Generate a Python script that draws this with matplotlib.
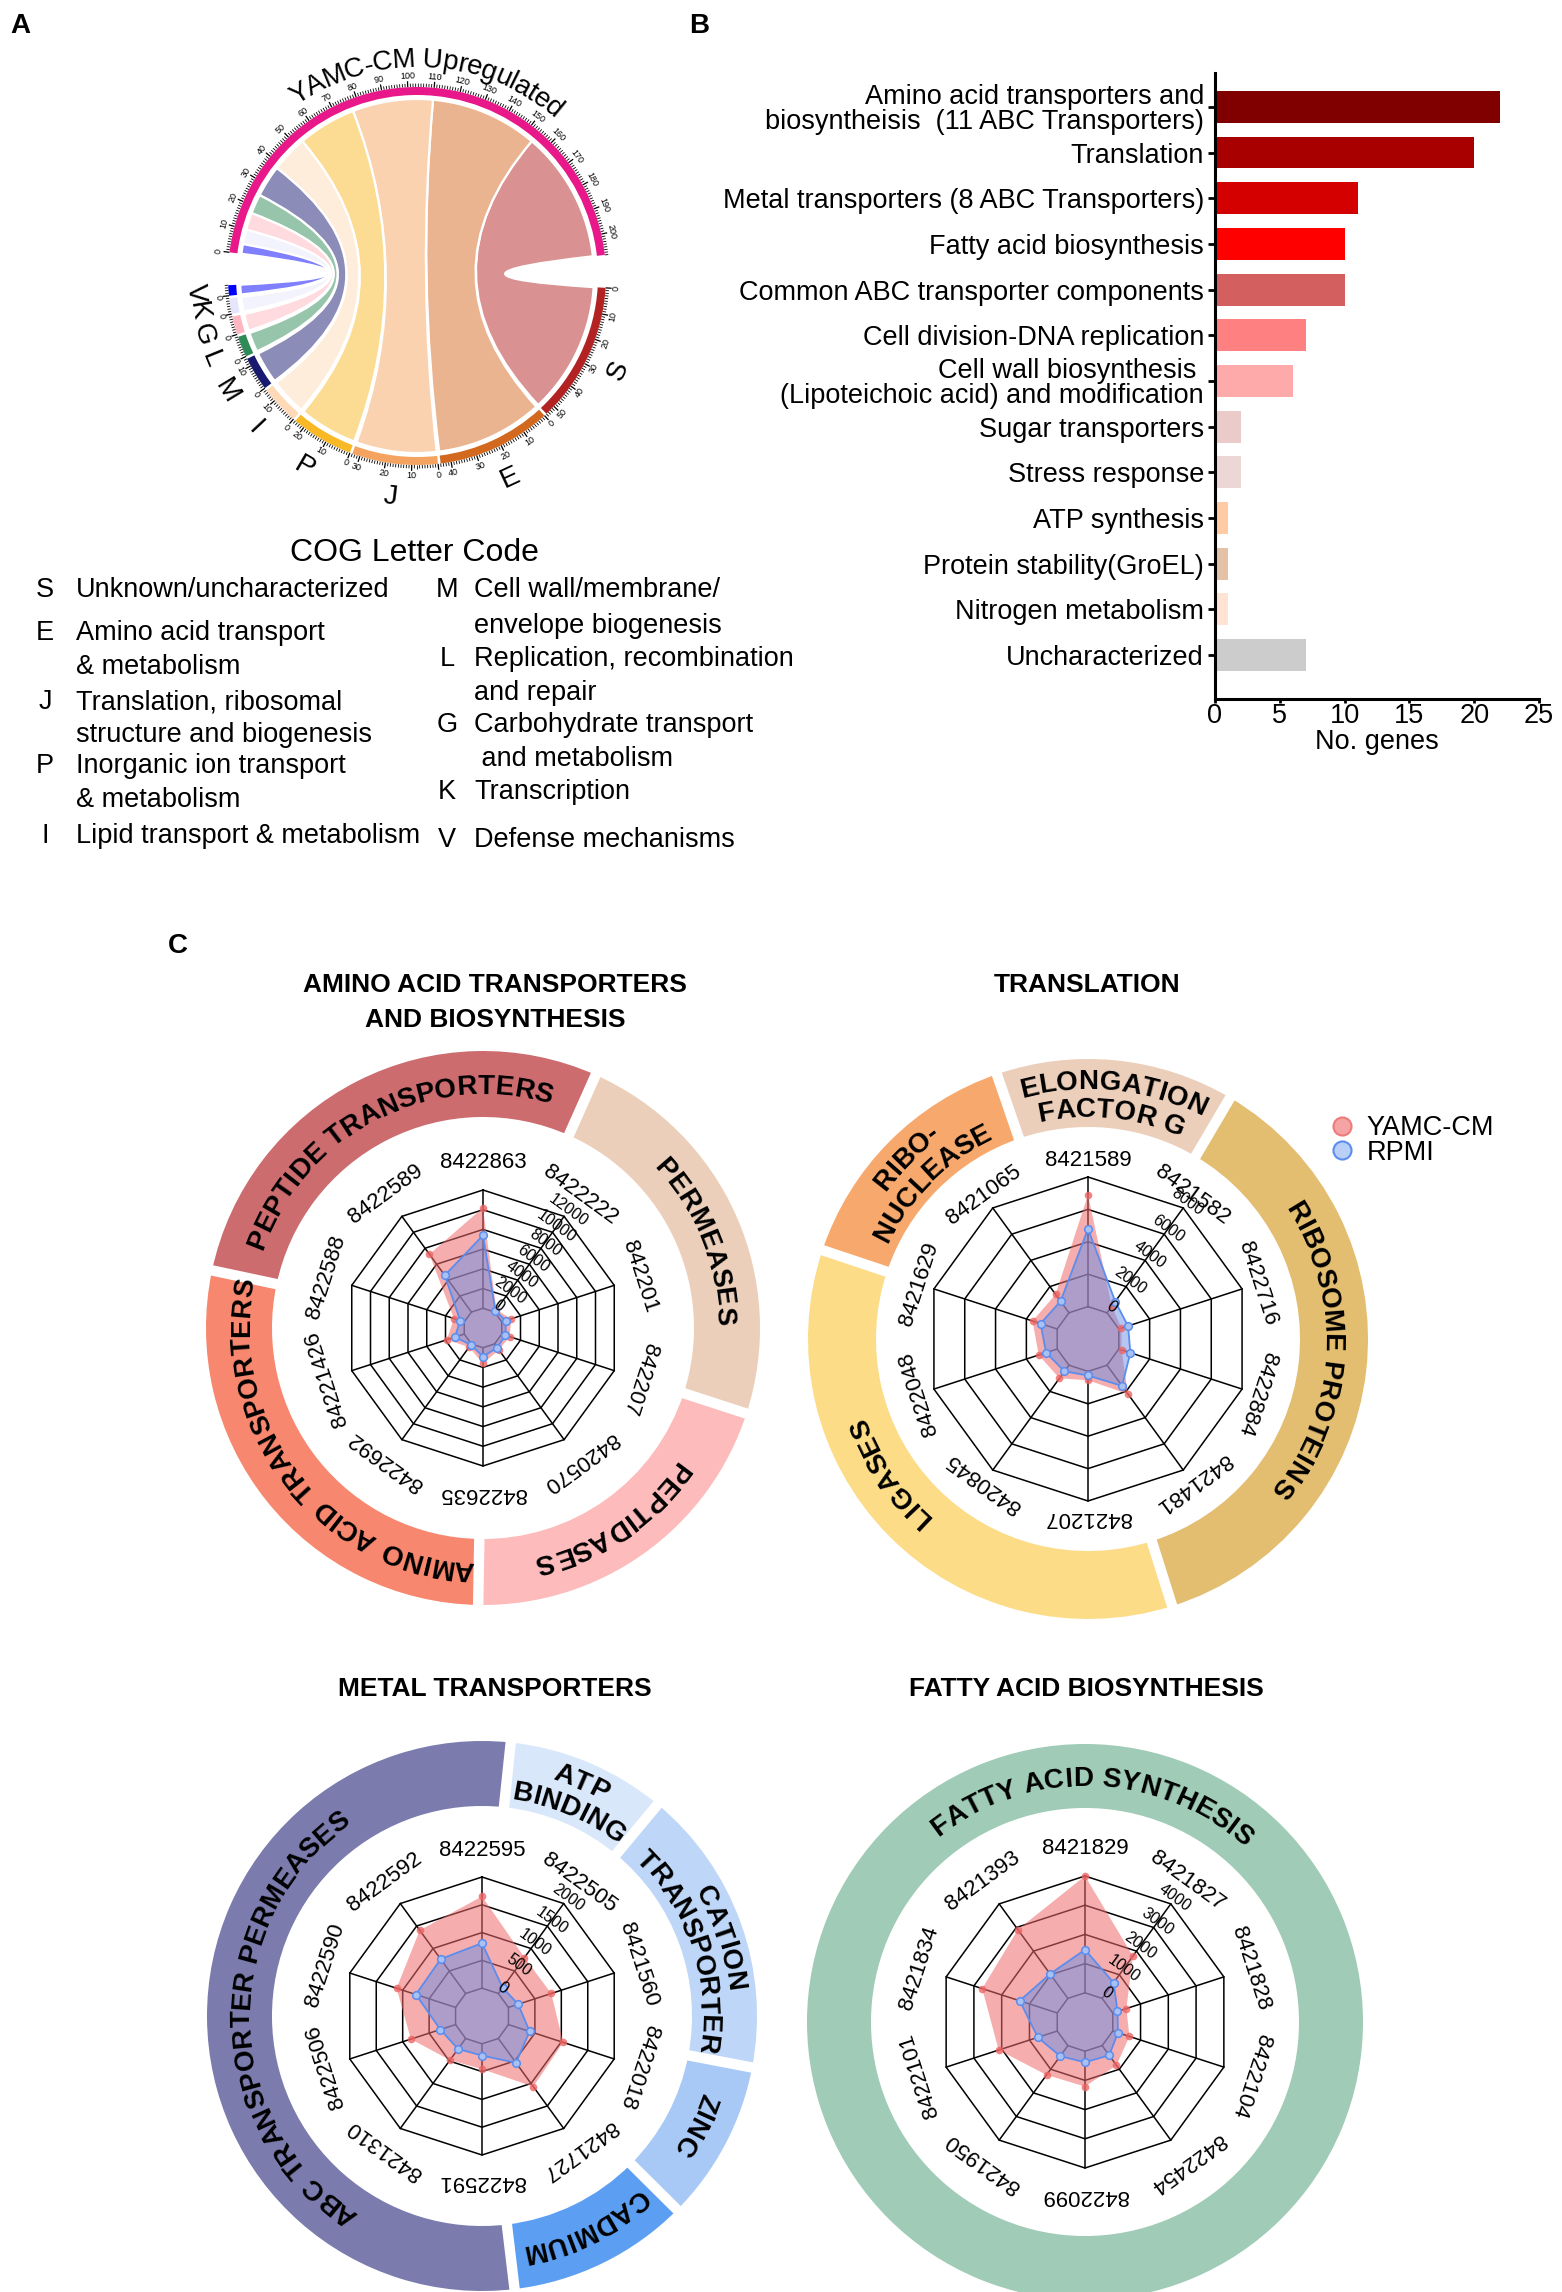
import numpy as np
import matplotlib
matplotlib.use("Agg")
import matplotlib.pyplot as plt
from matplotlib.path import Path
from matplotlib.patches import PathPatch, Wedge
from matplotlib.lines import Line2D
from matplotlib.collections import LineCollection
from matplotlib import ft2font
from matplotlib.font_manager import FontProperties, findfont

# ======================= DATA =======================
# Panel A : chord diagram
chord_title = "YAMC-CM Upregulated"
cog_codes = ["S", "E", "J", "P", "I", "M", "L", "G", "K", "V"]
cog_counts = [54, 44, 33, 24, 15, 13, 8, 7, 6, 4]
cog_colors = ["#B22222", "#D2691E", "#F4A460", "#F9B826", "#FFDAB9",
              "#191970", "#2E8B57", "#FFB6C1", "#E6E6FA", "#0000FF"]
up_color = "#E8178A"

cog_legend_title = "COG Letter Code"
cog_left = [("S", "Unknown/uncharacterized"), ("E", "Amino acid transport"),
            ("", "& metabolism"), ("J", "Translation, ribosomal"),
            ("", "structure and biogenesis"), ("P", "Inorganic ion transport"),
            ("", "& metabolism"), ("I", "Lipid transport & metabolism")]
cog_right = [("M", "Cell wall/membrane/"), ("", "envelope biogenesis"),
             ("L", "Replication, recombination"), ("", "and repair"),
             ("G", "Carbohydrate transport"), ("", " and metabolism"),
             ("K", "Transcription"), ("V", "Defense mechanisms")]

# Panel B : bar chart
bar_labels = ["Amino acid transporters and\nbiosyntheisis  (11 ABC Transporters)",
              "Translation",
              "Metal transporters (8 ABC Transporters)",
              "Fatty acid biosynthesis",
              "Common ABC transporter components",
              "Cell division-DNA replication",
              "Cell wall biosynthesis \n(Lipoteichoic acid) and modification",
              "Sugar transporters",
              "Stress response",
              "ATP synthesis",
              "Protein stability(GroEL)",
              "Nitrogen metabolism",
              "Uncharacterized"]
bar_values = [22, 20, 11, 10, 10, 7, 6, 2, 2, 1, 1, 1, 7]
bar_colors = ["#800000", "#A80000", "#D40000", "#FF0000", "#D45F5F", "#FF8080",
              "#FFAAAA", "#EBCACA", "#EDD6D6", "#FFCBA4", "#E3C2A8", "#FFE4D6", "#CCCCCC"]
bar_xticks = [0, 5, 10, 15, 20, 25]

# Panel C : radar charts
series_names = ["YAMC-CM", "RPMI"]

r1_title = ["AMINO ACID TRANSPORTERS", "AND BIOSYNTHESIS"]
r1_genes = ["8422863", "8422222", "842201", "842207", "8420570",
            "8422635", "8422692", "84221426", "8422588", "8422589"]
r1_red = [10200, 300, 1000, 850, 750, 1600, 400, 1850, 1100, 7250]
r1_blue = [7400, 150, 430, 400, 450, 900, 100, 1000, 430, 4600]
r1_ticks = [0, 2000, 4000, 6000, 8000, 10000, 12000]
r1_groups = [["PEPTIDE TRANSPORTERS"], ["PERMEASES"], ["PEPTIDASES"], ["AMINO ACID TRANSPORTERS"]]
r1_group_colors = ["#CC6C6F", "#EBCFBA", "#FDBBBB", "#F8876F"]

r2_title = ["TRANSLATION"]
r2_genes = ["8421589", "8421582", "8422716", "8422884", "8421481",
            "8421207", "8420845", "8422048", "8421629", "8421065"]
r2_red = [6900, 500, 170, 180, 2200, 550, 1000, 1200, 1600, 1400]
r2_blue = [4800, 860, 600, 750, 1580, 250, 470, 720, 1080, 880]
r2_ticks = [0, 2000, 4000, 6000, 8000]
r2_groups = [["RIBO-", "NUCLEASE"], ["ELONGATION", "FACTOR G"], ["RIBOSOME PROTEINS"], ["LIGASES"]]
r2_group_colors = ["#F7A86C", "#EBCFBA", "#E3BD70", "#FDDC88"]

r3_title = ["METAL TRANSPORTERS"]
r3_genes = ["8422595", "8422505", "8421560", "8422018", "8421727",
            "8422591", "8421310", "8422506", "8422590", "8422592"]
r3_red = [1650, 800, 810, 1035, 1070, 455, 480, 845, 1115, 1405]
r3_blue = [810, 130, 185, 400, 540, 212, 232, 288, 750, 765]
r3_ticks = [0, 500, 1000, 1500, 2000]
r3_groups = [["ABC TRANSPORTER PERMEASES"], ["ATP", "BINDING"], ["CATION", "TRANSPORTER"],
             ["ZINC"], ["CADMIUM"]]
r3_group_colors = ["#7B7BAE", "#D9E7FB", "#BED6F7", "#A8C8F6", "#5C9EF2"]

r4_title = ["FATTY ACID BIOSYNTHESIS"]
r4_genes = ["8421829", "8421827", "8421828", "8422104", "8422454",
            "8422099", "8421950", "8422101", "8421834", "8421393"]
r4_red = [4000, 1790, 490, 600, 835, 1210, 1240, 2110, 2700, 2910]
r4_blue = [1475, 665, 170, 185, 410, 380, 445, 700, 1350, 1035]
r4_ticks = [0, 1000, 2000, 3000, 4000]
r4_groups = [["FATTY ACID SYNTHESIS"]]
r4_group_colors = ["#9FCBB7"]

# ======================= LAYOUT / STYLE =======================
W, H, DPI = 1562, 2292, 100
plt.rcParams["font.family"] = ["Liberation Sans", "DejaVu Sans"]
fig = plt.figure(figsize=(W / DPI, H / DPI), dpi=DPI)
fig.patch.set_facecolor("white")

RED = "#F06A6A"
RED_M = "#EE6464"
BLUE = "#6A8FE6"
BLUE_E = "#5B8DEF"


def fx(x):
    return x / W


def fy(y):
    return 1 - y / H


def canvas(cx, cy, w, h):
    ax = fig.add_axes([(cx - w / 2) / W, 1 - (cy + h / 2) / H, w / W, h / H])
    ax.set_xlim(-w / 2, w / 2)
    ax.set_ylim(-h / 2, h / 2)
    ax.set_axis_off()
    return ax


_ft = {}


def adv_px(ch, size, weight):
    if weight not in _ft:
        _ft[weight] = ft2font.FT2Font(findfont(FontProperties(family="Liberation Sans", weight=weight)))
    f = _ft[weight]
    f.set_size(size, 72)
    g = f.load_char(ord(ch))
    return g.linearHoriAdvance / 65536.0 * DPI / 72.0


def curved_text(ax, s, r_base, theta_c, size, weight="bold", color="black", track=0.0):
    advs = [adv_px(c, size, weight) + track for c in s]
    cap = 0.72 * size * DPI / 72.0
    reff = r_base + cap / 2
    total = sum(advs)
    t0 = np.deg2rad(theta_c) + total / reff / 2
    pos = 0.0
    for c, a in zip(s, advs):
        t = t0 - (pos + a / 2) / reff
        pos += a
        if c == " ":
            continue
        ax.text(r_base * np.cos(t), r_base * np.sin(t), c, rotation=np.rad2deg(t) - 90,
                rotation_mode="anchor", ha="center", va="baseline",
                fontsize=size, fontweight=weight, color=color)


def readable_rot(deg):
    return deg + 90 if np.sin(np.deg2rad(deg)) < -1e-6 else deg - 90


# ---------------- Panel labels ----------------
for lab, (px, py) in zip(["A", "B", "C"], [(20, 26), (699, 26), (178, 946)]):
    fig.text(fx(px), fy(py), lab, fontsize=20, fontweight="bold", ha="center", va="center")

# ---------------- Panel A : chord ----------------
axA = canvas(417, 276, 560, 560)
unit, big_gap, small_gap, a_start = 0.8, 10.0, 0.8, 172.8
r_out, r_in, r_link = 189, 181, 177
total = sum(cog_counts)
top_s, top_e = a_start, a_start - total * unit
bottom = []
cur = top_e - big_gap
for code, n, col in zip(cog_codes, cog_counts, cog_colors):
    bottom.append((code, cur, cur - n * unit, n, col))
    cur = cur - n * unit - small_gap
top_pos = {}
cur = top_s
for code, n in reversed(list(zip(cog_codes, cog_counts))):
    top_pos[code] = (cur, cur - n * unit)
    cur -= n * unit


def arc(a1, a2, r, npts=80):
    t = np.deg2rad(np.linspace(a1, a2, npts))
    return np.c_[r * np.cos(t), r * np.sin(t)]


def blend(c, alpha=0.5):
    rgb = np.array(matplotlib.colors.to_rgb(c))
    return tuple(alpha * rgb + (1 - alpha))


for code, b1, b2, n, col in bottom:
    t1, t2 = top_pos[code]
    A = arc(t1, t2, r_link)
    B = arc(b1, b2, r_link)
    verts = list(map(tuple, A)) + [(0, 0), tuple(B[0])] + list(map(tuple, B[1:])) + [(0, 0), tuple(A[0])]
    codes = ([Path.MOVETO] + [Path.LINETO] * (len(A) - 1) + [Path.CURVE3, Path.CURVE3]
             + [Path.LINETO] * (len(B) - 1) + [Path.CURVE3, Path.CURVE3])
    axA.add_patch(PathPatch(Path(verts, codes), facecolor=blend(col, 0.5), edgecolor="white", lw=1.6, zorder=2))

sectors = [("top", top_s, top_e, total, up_color)] + bottom
segs_minor, segs_major = [], []
for name, s, e, n, col in sectors:
    axA.add_patch(Wedge((0, 0), r_out, e, s, width=r_out - r_in, facecolor=col, edgecolor="none", zorder=3))
    for k in range(0, n + 1):
        a = np.deg2rad(s - k * unit)
        ln = 6 if k % 10 == 0 else 3.5
        seg = [(r_out * np.cos(a), r_out * np.sin(a)), ((r_out + ln) * np.cos(a), (r_out + ln) * np.sin(a))]
        (segs_major if k % 10 == 0 else segs_minor).append(seg)
        if k % 10 == 0:
            d = np.rad2deg(a)
            axA.text(200 * np.cos(a), 200 * np.sin(a), str(k), fontsize=6.5, ha="center", va="center",
                     rotation=readable_rot(d), rotation_mode="anchor")
    if name != "top":
        mid = (s + e) / 2
        m = np.deg2rad(mid)
        axA.text(222 * np.cos(m), 222 * np.sin(m), name, fontsize=20, ha="center", va="center",
                 rotation=readable_rot(mid), rotation_mode="anchor")
axA.add_collection(LineCollection(segs_minor, colors="black", linewidths=0.6))
axA.add_collection(LineCollection(segs_major, colors="black", linewidths=0.9))
curved_text(axA, chord_title, 209, 87, 20, weight="normal")

# COG legend
fig.text(fx(414), fy(553), cog_legend_title, fontsize=23, ha="center", va="center")
y_left = [590, 633, 667, 702, 735, 766, 800, 836]
y_right = [590, 626, 659, 693, 725, 759, 792, 840]
for (L, txt), yy in zip(cog_left, y_left):
    if L:
        fig.text(fx(45), fy(yy), L, fontsize=19.5, ha="center", va="center")
    fig.text(fx(76), fy(yy), txt, fontsize=19.5, ha="left", va="center")
for (L, txt), yy in zip(cog_right, y_right):
    if L:
        fig.text(fx(447), fy(yy), L, fontsize=19.5, ha="center", va="center")
    fig.text(fx(474), fy(yy), txt, fontsize=19.5, ha="left", va="center")

# ---------------- Panel B : bars ----------------
axB = fig.add_axes([fx(1215), fy(699), (1539 - 1215) / W, (699 - 73) / H])
yy = np.arange(len(bar_values))
axB.barh(yy, bar_values, height=0.7, color=bar_colors, zorder=2)
axB.set_ylim(len(bar_values) - 1 + 0.96, -0.74)
axB.set_xlim(0, 25)
axB.set_xticks(bar_xticks)
axB.set_yticks(yy)
axB.set_yticklabels(bar_labels, fontsize=19.5, linespacing=0.95)
for sp in ["top", "right"]:
    axB.spines[sp].set_visible(False)
for sp in ["left", "bottom"]:
    axB.spines[sp].set_linewidth(2.2)
axB.tick_params(axis="y", length=5, width=2, labelsize=19.5, pad=3)
axB.tick_params(axis="x", length=3, width=2, labelsize=19.5, pad=0)
axB.set_xlabel("No. genes", fontsize=19.5, labelpad=0)


# ---------------- Panel C : radars ----------------
def draw_radar(cx, cy, genes, red, blue, ticks, groups, gcolors, bounds, text_ang,
               R, r_lab, ring=(211, 277), tick_fs=11.5):
    ax = canvas(cx, cy, 600, 600)
    n = len(genes)
    ang = np.deg2rad(90.0 - 360.0 / n * np.arange(n))
    step = ticks[1] - ticks[0]
    vmax = ticks[-1]

    def rad(v):
        return R * (np.asarray(v, float) + step) / (vmax + step)

    ca, sa = np.cos(ang), np.sin(ang)
    for lv in ticks:
        r = rad(lv)
        ax.plot(np.r_[r * ca, r * ca[0]], np.r_[r * sa, r * sa[0]], color="black", lw=1.1, zorder=2)
    r0 = rad(0)
    for c, s in zip(ca, sa):
        ax.plot([r0 * c, R * c], [r0 * s, R * s], color="black", lw=1.1, zorder=2)
    rr, rb = rad(red), rad(blue)
    ax.fill(rr * ca, rr * sa, color=RED, alpha=0.55, lw=0, zorder=3)
    ax.fill(rb * ca, rb * sa, color=BLUE, alpha=0.5, lw=0, zorder=4)
    ax.plot(np.r_[rb * ca, rb[0] * ca[0]], np.r_[rb * sa, rb[0] * sa[0]], color=BLUE_E, lw=1.3, zorder=5)
    ax.plot(rr * ca, rr * sa, "o", ms=5.5, mfc=RED_M, mec="none", alpha=0.8, zorder=6)
    ax.plot(rb * ca, rb * sa, "o", ms=5.5, mfc="#A9C1F2", mec=BLUE_E, mew=1.1, zorder=6)
    for a, g in zip(ang, genes):
        ax.text(r_lab * np.cos(a), r_lab * np.sin(a), g, fontsize=16, ha="center", va="center",
                rotation=np.rad2deg(a) - 90, rotation_mode="anchor", zorder=7)
    a1 = ang[1]
    for lv in ticks:
        r = rad(lv) + 7
        ax.text(r * np.cos(a1), r * np.sin(a1), f"{lv}", fontsize=tick_fs, ha="center", va="center",
                rotation=np.rad2deg(a1) - 90, rotation_mode="anchor", zorder=7)
    rin, rout = ring
    for (t1, t2), col in zip(bounds, gcolors):
        ax.add_patch(Wedge((0, 0), rout, t1, t2, width=rout - rin, facecolor=col, edgecolor="none", zorder=1))
    if len(bounds) > 1:
        for (t1, t2) in bounds:
            b = np.deg2rad(t1)
            ax.plot([(rin - 4) * np.cos(b), (rout + 4) * np.cos(b)],
                    [(rin - 4) * np.sin(b), (rout + 4) * np.sin(b)], color="white", lw=7.5,
                    solid_capstyle="butt", zorder=1.5)
    size = 20
    cap = 0.72 * size * DPI / 72.0
    rmid = (rin + rout) / 2
    for lines, ta in zip(groups, text_ang):
        if len(lines) == 1:
            curved_text(ax, lines[0], rmid - cap / 2, ta, size, track=0.8)
        else:
            curved_text(ax, lines[0], rmid + 14 - cap / 2, ta, size, track=0.8)
            curved_text(ax, lines[1], rmid - 14 - cap / 2, ta, size, track=0.8)
    return ax


r1_bounds = [(66, 168), (-18, 66), (-91, -18), (168, 269)]
r1_tang = [117, 22, -56, 218]
draw_radar(483, 1328, r1_genes, r1_red, r1_blue, r1_ticks, r1_groups, r1_group_colors,
           r1_bounds, r1_tang, R=138, r_lab=165)

r2_bounds = [(109, 161.5), (59.5, 109), (-72.5, 59.5), (161.5, 287.5)]
r2_tang = [135, 84, -3, 214]
draw_radar(1088, 1339, r2_genes, r2_red, r2_blue, r2_ticks, r2_groups, r2_group_colors,
           r2_bounds, r2_tang, R=162, r_lab=178, ring=(212, 280))

r3_bounds = [(84, 276.8), (50.3, 84), (-10.8, 50.3), (-44.8, -10.8), (-83.2, -44.8)]
r3_tang = [181, 67, 18, -27, -64]
draw_radar(482, 2016, r3_genes, r3_red, r3_blue, r3_ticks, r3_groups, r3_group_colors,
           r3_bounds, r3_tang, R=139, r_lab=165, ring=(210, 275))

r4_bounds = [(0, 360)]
r4_tang = [88]
draw_radar(1085, 2022, r4_genes, r4_red, r4_blue, r4_ticks, r4_groups, r4_group_colors,
           r4_bounds, r4_tang, R=146, r_lab=174, ring=(214, 278))

# radar titles
for lines, (px, py) in zip([r1_title, r2_title, r3_title, r4_title],
                           [(495, 985), (1087, 985), (495, 1689), (1086, 1689)]):
    for i, t in enumerate(lines):
        fig.text(fx(px), fy(py + 35 * i), t, fontsize=19, fontweight="bold", ha="center", va="center")

# legend
handles = [Line2D([], [], ls="none", marker="o", ms=13, mfc="#F6A3A3", mec="#EE7B7B", mew=1.5),
           Line2D([], [], ls="none", marker="o", ms=13, mfc="#B9CFF5", mec="#5B8DEF", mew=1.5)]
fig.legend(handles, series_names, loc="upper left", bbox_to_anchor=(fx(1330), fy(1115)),
           frameon=False, fontsize=19.5, handlelength=0.9, handletextpad=0.45,
           labelspacing=-0.05, borderpad=0, borderaxespad=0)

fig.savefig("out.png", dpi=DPI, facecolor="white")
